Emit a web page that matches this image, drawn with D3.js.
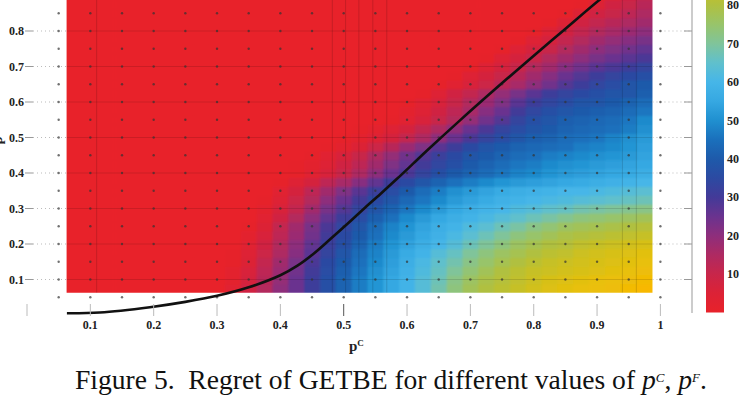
<!DOCTYPE html>
<html><head><meta charset="utf-8">
<script src="https://cdn.jsdelivr.net/npm/d3@7/dist/d3.min.js"></script>
<style>html,body{margin:0;padding:0;background:#fff;} svg{display:block}</style>
</head><body><svg id="c" width="744" height="419"></svg>
<script>
// ---- data ----
const pcCells = [0.075,0.1,0.125,0.15,0.175,0.2,0.225,0.25,0.275,0.3,0.325,0.35,0.375,0.4,0.425,0.45,0.475,0.5,0.525,0.55,0.575,0.6,0.625,0.65,0.675,0.7,0.725,0.75,0.775,0.8,0.825,0.85,0.875,0.9,0.925,0.95,0.975];
const pfCells = [0.075,0.1,0.125,0.15,0.175,0.2,0.225,0.25,0.275,0.3,0.325,0.35,0.375,0.4,0.425,0.45,0.475,0.5,0.525,0.55,0.575,0.6,0.625,0.65,0.675,0.7,0.725,0.75,0.775,0.8,0.825,0.85,0.875,0.9];
const regret = [
[0,0,0,0,0,0,0,0,0, 0,3,8,14,20,25,31,37,42,47,51,55,59,63,68,73,77,80,82,84,86,88,89,90,91,92,94,96],
[0,0,0,0,0,0,0,0,0, 0,2,7,13,19,25,31,37,42,47,51,55,59,63,67,72,76,79,81,83,85,87,88,89,90,91,92,94],
[0,0,0,0,0,0,0,0,0, 0,2,6,12,18,24,30,36,41,46,50,54,58,62,66,70,74,77,80,82,84,85,86,87,88,89,90,92],
[0,0,0,0,0,0,0,0,0, 0,1,5,11,17,23,29,35,40,45,49,53,57,61,65,68,72,75,78,80,82,84,85,86,87,88,89,90],
[0,0,0,0,0,0,0,0,0, 0,1,4,9,15,21,27,33,39,44,48,52,56,59,63,66,70,73,76,78,80,82,83,85,86,87,88,89],
[0,0,0,0,0,0,0,0,0, 0,0,3,8,14,20,26,32,37,42,47,51,54,57,60,63,67,70,73,76,78,80,81,83,84,85,86,87],
[0,0,0,0,0,0,0,0,0, 0,0,2,6,12,18,24,30,35,40,45,49,52,55,58,61,64,67,70,73,75,77,79,80,81,82,83,84],
[0,0,0,0,0,0,0,0,0, 0,0,1,5,11,17,23,29,34,39,44,48,51,54,57,59,62,64,67,69,72,74,76,77,78,79,80,81],
[0,0,0,0,0,0,0,0,0, 0,0,0,3,8,14,20,26,31,36,41,45,49,52,55,57,59,61,63,65,67,69,71,73,74,75,76,77],
[0,0,0,0,0,0,0,0,0, 0,0,0,2,6,11,17,23,28,33,38,42,46,49,52,55,57,59,60,62,63,65,66,68,69,70,71,72],
[0,0,0,0,0,0,0,0,0, 0,0,0,1,4,9,14,20,25,30,35,39,43,46,49,52,54,56,58,59,60,61,62,63,64,65,66,67],
[0,0,0,0,0,0,0,0,0, 0,0,0,0,3,7,12,17,22,27,32,36,40,44,47,50,52,54,56,57,58,59,60,60,61,62,63,64],
[0,0,0,0,0,0,0,0,0, 0,0,0,0,1,4,7,12,16,21,26,31,35,39,42,45,47,49,51,52,53,54,55,56,57,58,59,60],
[0,0,0,0,0,0,0,0,0, 0,0,0,0,0,1,3,6,10,15,20,25,29,33,37,40,42,44,46,48,49,51,52,53,54,55,56,57],
[0,0,0,0,0,0,0,0,0, 0,0,0,0,0,1,2,4,8,12,17,22,26,30,34,37,40,42,44,46,47,49,50,51,52,53,54,55],
[0,0,0,0,0,0,0,0,0, 0,0,0,0,0,0,1,3,6,10,15,19,24,28,32,35,38,40,42,44,45,47,48,49,50,51,52,54],
[0,0,0,0,0,0,0,0,0, 0,0,0,0,0,0,0,1,2,5,9,13,18,22,27,31,35,38,40,42,43,44,45,47,48,49,51,53],
[0,0,0,0,0,0,0,0,0, 0,0,0,0,0,0,0,0,1,2,4,7,11,15,20,25,29,33,36,39,41,42,44,45,46,48,50,52],
[0,0,0,0,0,0,0,0,0, 0,0,0,0,0,0,0,0,0,1,2,4,7,11,15,20,25,29,33,36,38,40,42,43,44,45,47,50],
[0,0,0,0,0,0,0,0,0, 0,0,0,0,0,0,0,0,0,0,0,1,3,6,10,14,19,24,28,33,37,39,41,42,43,44,46,49],
[0,0,0,0,0,0,0,0,0, 0,0,0,0,0,0,0,0,0,0,0,0,2,4,8,12,16,21,25,30,34,37,39,40,41,42,44,46],
[0,0,0,0,0,0,0,0,0, 0,0,0,0,0,0,0,0,0,0,0,0,1,3,6,10,14,18,22,27,31,34,36,38,39,40,42,44],
[0,0,0,0,0,0,0,0,0, 0,0,0,0,0,0,0,0,0,0,0,0,0,1,4,8,11,15,19,23,27,31,33,35,37,38,39,41],
[0,0,0,0,0,0,0,0,0, 0,0,0,0,0,0,0,0,0,0,0,0,0,0,1,3,6,9,13,16,20,24,28,31,34,36,38,40],
[0,0,0,0,0,0,0,0,0, 0,0,0,0,0,0,0,0,0,0,0,0,0,0,0,1,4,7,10,13,17,21,25,28,31,33,35,37],
[0,0,0,0,0,0,0,0,0, 0,0,0,0,0,0,0,0,0,0,0,0,0,0,0,0,1,4,7,10,14,17,21,24,27,29,31,33],
[0,0,0,0,0,0,0,0,0, 0,0,0,0,0,0,0,0,0,0,0,0,0,0,0,0,0,1,4,7,10,14,17,20,23,25,27,29],
[0,0,0,0,0,0,0,0,0, 0,0,0,0,0,0,0,0,0,0,0,0,0,0,0,0,0,0,1,4,7,10,14,17,20,22,24,26],
[0,0,0,0,0,0,0,0,0, 0,0,0,0,0,0,0,0,0,0,0,0,0,0,0,0,0,0,0,1,4,7,11,14,17,19,21,23],
[0,0,0,0,0,0,0,0,0, 0,0,0,0,0,0,0,0,0,0,0,0,0,0,0,0,0,0,0,0,1,4,8,11,14,16,18,20],
[0,0,0,0,0,0,0,0,0, 0,0,0,0,0,0,0,0,0,0,0,0,0,0,0,0,0,0,0,0,0,1,5,8,11,13,15,17],
[0,0,0,0,0,0,0,0,0, 0,0,0,0,0,0,0,0,0,0,0,0,0,0,0,0,0,0,0,0,0,0,1,5,8,10,12,15],
[0,0,0,0,0,0,0,0,0, 0,0,0,0,0,0,0,0,0,0,0,0,0,0,0,0,0,0,0,0,0,0,0,1,5,8,10,13],
[0,0,0,0,0,0,0,0,0, 0,0,0,0,0,0,0,0,0,0,0,0,0,0,0,0,0,0,0,0,0,0,0,0,1,5,8,11]
];
const pcTicks = [0.1,0.2,0.3,0.4,0.5,0.6,0.7,0.8,0.9,1];
const pcTickLabels = ["0.1","0.2","0.3","0.4","0.5","0.6","0.7","0.8","0.9","1"];
const pfTicks = [0.1,0.2,0.3,0.4,0.5,0.6,0.7,0.8,0.9];
const pfTickLabels = ["0.1","0.2","0.3","0.4","0.5","0.6","0.7","0.8","0.9"];
const colorbarTicks = [10,20,30,40,50,60,70,80];
const colorStops = [0,5,10,15,20,25,30,35,40,45,50,55,60,65,70,75,80,85,90,96];
const colorHex = ["#e8222a","#dc2236","#c8264a","#ae2a62","#8e2e7c","#6a338f","#433a98","#2c4aa2","#1e5aaa","#1a70bc","#2090d0","#36a8e2","#46b6e8","#60c0cc","#80c49a","#98c46a","#b0c040","#ccc020","#e8c00a","#f8b800"];
const curvePc = [0.063,0.115,0.194,0.25,0.3,0.35,0.4,0.427,0.452,0.479,0.506,0.531,0.558,0.585,0.610,0.632,0.684,0.737,0.790,0.846,0.902,0.93];
const curvePf = [0.005,0.007,0.022,0.037,0.054,0.078,0.112,0.139,0.172,0.214,0.257,0.298,0.341,0.385,0.427,0.464,0.549,0.633,0.715,0.800,0.885,0.925];
const dotPc = [0.05,0.1,0.15,0.2,0.25,0.3,0.35,0.4,0.45,0.5,0.55,0.6,0.65,0.7,0.75,0.8,0.85,0.9,0.95,1.0];
const dotPf = [0.05,0.1,0.15,0.2,0.25,0.3,0.35,0.4,0.45,0.5,0.55,0.6,0.65,0.7,0.75,0.8,0.85];
const artifactPc = [0.11,0.482,0.503,0.524,0.546,0.568,0.94,0.962];

// ---- layout ----
const svg = d3.select("#c");
const x = d3.scaleLinear().domain([0,1]).range([27, 660.4]);
const y = d3.scaleLinear().domain([0,1]).range([315, -40]);
const color = d3.scaleLinear().domain(colorStops).range(colorHex).interpolate(d3.interpolateRgb).clamp(true);
const step = 0.025;
const cw = x(step) - x(0), ch = y(0) - y(step);
const heatL = x(pcCells[0]-step/2), heatR = x(pcCells[pcCells.length-1]+step/2), heatB = y(pfCells[0]-step/2);

const serif = "'Liberation Serif','Times New Roman',serif";
const defs = svg.append("defs");
defs.append("clipPath").attr("id","hc").append("rect")
  .attr("x",heatL).attr("y",-50).attr("width",heatR-heatL).attr("height",heatB+50);
const f = defs.append("filter").attr("id","soft").attr("x","-5%").attr("y","-5%").attr("width","110%").attr("height","110%");
f.append("feGaussianBlur").attr("stdDeviation",1.3).attr("result","b");
const ct = f.append("feComponentTransfer").attr("in","b");
ct.append("feFuncA").attr("type","table").attr("tableValues","1 1");

// heatmap
const cells = [];
regret.forEach((row,i)=>row.forEach((v,j)=>cells.push({pc:pcCells[j],pf:pfCells[i],v})));
const hm = svg.append("g").attr("clip-path","url(#hc)");
hm.append("g").attr("filter","url(#soft)")
  .selectAll("rect.cell").data(cells).join("rect").attr("class","cell")
  .attr("x",d=>x(d.pc-step/2)).attr("y",d=>y(d.pf+step/2))
  .attr("width",cw+0.6).attr("height",ch+0.6)
  .attr("fill",d=>color(d.v));

// faint grid/artifact lines across the heatmap
hm.selectAll("line.h").data(pfTicks).join("line").attr("class","h")
  .attr("x1",heatL).attr("x2",heatR).attr("y1",d=>y(d)).attr("y2",d=>y(d))
  .attr("stroke","#000").attr("stroke-opacity",0.12).attr("stroke-width",1);
hm.selectAll("line.v").data(artifactPc).join("line").attr("class","v")
  .attr("y1",-5).attr("y2",heatB).attr("x1",d=>x(d)).attr("x2",d=>x(d))
  .attr("stroke","#000").attr("stroke-opacity",0.15).attr("stroke-width",1);

// dotted grid lines outside heatmap
const gl = svg.append("g");
gl.selectAll("line.l").data(pfTicks).join("line")
  .attr("x1",33).attr("x2",heatL).attr("y1",d=>y(d)).attr("y2",d=>y(d))
  .attr("stroke","#bbb").attr("stroke-dasharray","1,3");
gl.selectAll("line.r").data(pfTicks).join("line")
  .attr("x1",heatR).attr("x2",692).attr("y1",d=>y(d)).attr("y2",d=>y(d))
  .attr("stroke","#bbb").attr("stroke-dasharray","1,3");

// dots
const dots = [];
dotPf.forEach(pf=>dotPc.forEach(pc=>dots.push({pc,pf})));
svg.append("g").selectAll("circle").data(dots).join("circle")
  .attr("cx",d=>x(d.pc)).attr("cy",d=>y(d.pf)).attr("r",1.2)
  .attr("fill","#333").attr("fill-opacity",0.7);

// curve
const line = d3.line().x(d=>x(d[0])).y(d=>y(d[1])).curve(d3.curveCatmullRom.alpha(0.5));
svg.append("path").datum(curvePc.map((p,i)=>[p,curvePf[i]]))
  .attr("d",line).attr("fill","none").attr("stroke","#111").attr("stroke-width",2.6);

// left axis ticks + labels
const la = svg.append("g");
la.selectAll("line").data(pfTicks).join("line")
  .attr("x1",25).attr("x2",33).attr("y1",d=>y(d)).attr("y2",d=>y(d)).attr("stroke","#999");
la.selectAll("text").data(pfTicks).join("text")
  .attr("x",24).attr("y",d=>y(d)).attr("dy","0.35em").attr("text-anchor","end")
  .attr("font-family",serif).attr("font-weight","bold").attr("font-size",12).attr("fill","#222")
  .text((d,i)=>pfTickLabels[i]);
// y label (mostly outside the frame, as in the reference)
const yl = svg.append("text").attr("transform",`translate(2,${y(0.5)}) rotate(-90)`)
  .attr("text-anchor","middle").attr("font-family",serif).attr("font-weight","bold").attr("font-size",14).attr("fill","#222");
yl.append("tspan").text("p");
yl.append("tspan").attr("baseline-shift","super").attr("font-size",9).text("F");

// bottom ticks + labels
const ba = svg.append("g");
ba.selectAll("line").data([0].concat(pcTicks)).join("line")
  .attr("x1",d=>x(d)).attr("x2",d=>x(d)).attr("y1",304).attr("y2",316)
  .attr("stroke",d=>d===0.5?"#555":"#bbb");
ba.selectAll("text").data(pcTicks).join("text")
  .attr("x",d=>x(d)).attr("y",325).attr("dy","0.35em").attr("text-anchor","middle")
  .attr("font-family",serif).attr("font-weight","bold").attr("font-size",12).attr("fill","#222")
  .text((d,i)=>pcTickLabels[i]);
const xl = svg.append("text").attr("x",x(0.52)).attr("y",351).attr("text-anchor","middle")
  .attr("font-family",serif).attr("font-weight","bold").attr("font-size",15).attr("fill","#222");
xl.append("tspan").text("p");
xl.append("tspan").attr("baseline-shift","super").attr("font-size",9).text("C");

// right axis line
svg.append("line").attr("x1",692).attr("x2",692).attr("y1",0).attr("y2",313).attr("stroke","#999");
svg.append("g").selectAll("line").data(pfTicks).join("line")
  .attr("x1",684).attr("x2",692).attr("y1",d=>y(d)).attr("y2",d=>y(d)).attr("stroke","#999");

// colorbar
const cb = d3.scaleLinear().domain([0,80]).range([312.5,5]);
const cbTop = colorStops[colorStops.length-1];
const grad = defs.append("linearGradient").attr("id","cbg")
  .attr("gradientUnits","userSpaceOnUse").attr("x1",0).attr("x2",0)
  .attr("y1",cb(0)).attr("y2",cb(cbTop));
grad.selectAll("stop").data(colorStops).join("stop")
  .attr("offset",d=>d/cbTop).attr("stop-color",(d,i)=>colorHex[i]);
svg.append("rect").attr("x",706).attr("y",cb(cbTop)).attr("width",18)
  .attr("height",cb(0)-cb(cbTop)).attr("fill","url(#cbg)");
svg.append("g").selectAll("text").data(colorbarTicks).join("text")
  .attr("x",727).attr("y",d=>cb(d)).attr("dy","0.35em")
  .attr("font-family",serif).attr("font-weight","bold").attr("font-size",12).attr("fill","#222")
  .text(d=>d);

// caption
const cap = svg.append("text").attr("x",75).attr("y",389)
  .attr("font-family",serif).attr("font-size",18).attr("fill","#111").style("white-space","pre");
cap.append("tspan").text("Figure 5.  Regret of GETBE for different values of ");
cap.append("tspan").attr("font-style","italic").text("p");
cap.append("tspan").attr("baseline-shift","super").attr("font-size",13).attr("font-style","italic").text("C");
cap.append("tspan").text(", ");
cap.append("tspan").attr("font-style","italic").text("p");
cap.append("tspan").attr("baseline-shift","super").attr("font-size",13).attr("font-style","italic").text("F");
cap.append("tspan").text(".");
const w = cap.node().getComputedTextLength();
cap.attr("font-size", 18*641/w);
</script></body></html>
